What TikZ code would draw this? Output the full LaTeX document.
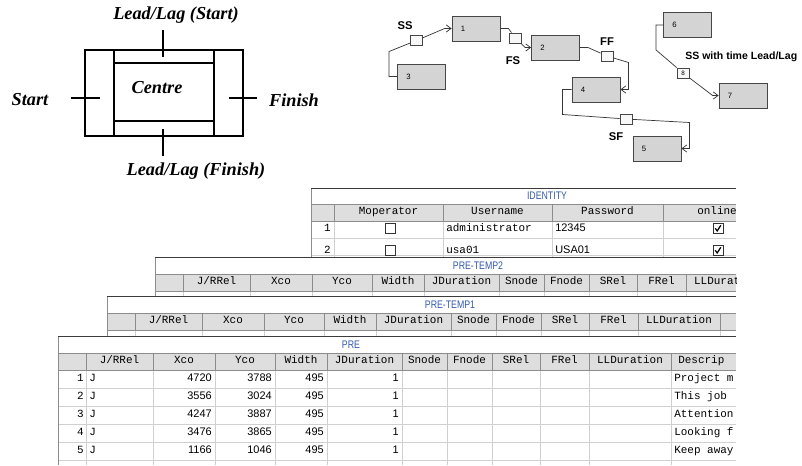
\documentclass[tikz,border=0pt]{standalone}
\usepackage{fontspec}
\setmainfont{Liberation Serif}
\setsansfont{Liberation Sans}
\setmonofont{Liberation Mono}
\usetikzlibrary{arrows.meta,positioning,calc}
\definecolor{actgray}{RGB}{212,212,212}
\definecolor{actline}{RGB}{70,70,70}
\definecolor{linkgray}{RGB}{55,55,55}
\definecolor{hdrgray}{RGB}{222,222,222}
\definecolor{hdrline}{RGB}{140,140,140}
\definecolor{gridgray}{RGB}{208,208,208}
\definecolor{framegray}{RGB}{60,60,60}
\definecolor{titleblue}{RGB}{50,90,170}

\begin{document}
\begin{tikzpicture}[x=0.25mm, y=-0.25mm,
  diag/.style={line width=0.8pt, black},
  diaglbl/.style={font=\rmfamily\bfseries\itshape\fontsize{13}{15}\selectfont, inner sep=0pt},
  act/.style={draw=actline, fill=actgray, line width=0.6pt, minimum height=6.25mm, text width=7.6mm, inner xsep=2.2mm, inner ysep=0pt, align=left, font=\sffamily\fontsize{5.5}{6}\selectfont},
  rel/.style={draw=actline, fill=black!3, line width=0.6pt, minimum width=3mm, minimum height=2.5mm, inner sep=0pt, font=\sffamily\fontsize{4.5}{5}\selectfont},
  link/.style={linkgray, line width=0.5pt},
  arr/.style={-{Straight Barb[length=1.2mm, width=1.8mm]}},
  rellbl/.style={font=\sffamily\bfseries\fontsize{8}{9}\selectfont, inner sep=0pt},
  grid/.style={gridgray, line width=0.5pt},
  hdrsep/.style={hdrline, line width=0.5pt},
  frame/.style={framegray, line width=1.1pt},
  wintitle/.style={text=titleblue, font=\sffamily\fontsize{7.8}{9}\selectfont, inner sep=0pt},
  hdr/.style={font=\ttfamily\fontsize{7.8}{9}\selectfont, inner sep=0pt, text height=1.55mm, text depth=0.45mm},
  cell/.style={font=\ttfamily\fontsize{7.8}{9}\selectfont, inner sep=0pt, text height=1.55mm, text depth=0.45mm},
  num/.style={font=\sffamily\fontsize{7.8}{9}\selectfont, inner sep=0pt, text height=1.55mm, text depth=0.45mm, anchor=east},
  chk/.style={draw=black!80, fill=white, line width=0.5pt, minimum size=2.5mm, inner sep=0pt},
  tick/.style={black, line width=0.9pt}
]
\useasboundingbox (0,0) rectangle (802,465);
\clip (0,0) rectangle (802,465);
\fill[white] (0,0) rectangle (802,465);

%--- Link box diagram ---
\draw[diag] (85,50) rectangle (243,136);
\draw[diag] (114,50) -- (114,136) (214,50) -- (214,136);
\draw[diag] (114,63) -- (214,63) (114,121) -- (214,121);
\draw[diag] (163,30) -- (163,57);
\draw[diag] (163,129) -- (163,156);
\draw[diag] (71,98) -- (100,98);
\draw[diag] (229,98) -- (257,98);
\node[diaglbl] (lagstart) at (176,15) {Lead/Lag (Start)};
\node[diaglbl] (lagfinish) at (196,171) {Lead/Lag (Finish)};
\node[diaglbl] (startlbl) at (30,100) {Start};
\node[diaglbl] (finishlbl) at (294,100) {Finish};
\node[diaglbl] (centrelbl) at (157,88) {Centre};

%--- Activity network ---
\node[act] (a1) at (476,28.5) {1};
\node[act] (a2) at (555.5,47.5) {2};
\node[act] (a3) at (421.5,76.5) {3};
\node[act] (a4) at (596,89.5) {4};
\node[act] (a5) at (657,148.5) {5};
\node[act] (a6) at (687.5,25) {6};
\node[act] (a7) at (743,95.5) {7};

\node[rel] (rss) at (416.5,40.5) {};
\node[rel] (rfs) at (515.5,38) {};
\node[rel] (rff) at (607,56) {};
\node[rel] (rsf) at (626,119) {};
\node[rel] (rll) at (683,73) {8};

% relations
\draw[link, arr] (a3.west) -- ++(-8,0) -- ++(0,-25) -- (rss) -- ($(a1.west)+(-7,0)$) -- (a1.west);
\draw[link, arr] (a1.east) -- ++(8,0) -- (rfs) -- ($(a2.west)+(-6,0)$) -- (a2.west);
\draw[link, arr] (a2.east) -- ++(8,0) -- (rff) -- ($(a4.east)+(8,-27)$) -- ($(a4.east)+(8,0)$) -- (a4.east);
\draw[link, arr] (a4.west) -- ++(-9,0) -- ++(0,25) -- (rsf) -- ($(a5.east)+(8,-26)$) -- ($(a5.east)+(8,0)$) -- (a5.east);
\draw[link, arr] (a6.west) -- ++(-7,0) -- ++(0,25) -- (rll) -- ($(a7.west)+(-6,0)$) -- (a7.west);

\node[rellbl] (ss) at (405,26) {SS};
\node[rellbl] (fs) at (513,61) {FS};
\node[rellbl] (ff) at (607,42) {FF};
\node[rellbl] (sf) at (616,137) {SF};
\node[rellbl, anchor=west, font=\sffamily\bfseries\fontsize{7.5}{9}\selectfont] (sslag) at (685,57) {SS with time Lead/Lag};

%--- IDENTITY window ---
\begin{scope}
  \clip (311,188) rectangle (736,257);
  \fill[white] (311,188) rectangle (736,257);
  \fill[hdrgray] (311,204) rectangle (736,221);
  \foreach \ry in {238,255} \draw[grid] (311,\ry) -- (736,\ry);
  \foreach \cx in {334,443,552,663} {
    \draw[hdrsep] (\cx,204) -- (\cx,221);
    \draw[grid] (\cx,221) -- (\cx,257);
  }
  \draw[hdrsep] (311,204) -- (736,204) (311,221) -- (736,221) (311.5,188) -- (311.5,257);
  \draw[frame] (311,188.5) -- (736,188.5);
  \node[wintitle] (id-title) at (547,196) {\scalebox{0.8}[1]{IDENTITY}};
  \node[hdr] (id-h1) at (388.5,212.5) {Moperator};
  \node[hdr] (id-h2) at (497.5,212.5) {Username};
  \node[hdr] (id-h3) at (607.5,212.5) {Password};
  \node[hdr] (id-h4) at (717,212.5) {online};
  \foreach \r/\ry/\uname/\pword in {1/229.5/administrator/12345, 2/251.5/usa01/USA01} {
    \node[cell, anchor=east] (id-n\r) at (331,\ry) {\r};
    \node[chk] (id-c\r) at (390,\ry-1) {};
    \node[cell, anchor=west] (id-u\r) at (446,\ry) {\uname};
    \node[num, anchor=west] (id-p\r) at (555,\ry) {\pword};
    \node[chk] (id-k\r) at (718,\ry-1) {};
    \draw[tick] ($(id-k\r)+(-2.8,-0.2)$) -- ++(2,2.6) -- ++(3.6,-5.6);
  }
\end{scope}

%--- PRE windows ---
\foreach \dx/\wtop/\wbot/\wname/\tx in {97/257/296/PRE-TEMP2/478, 49/296/336/PRE-TEMP1/450, 0/336/465/PRE/351} {
  \begin{scope}
    \clip (58+\dx,\wtop) rectangle (736,\wbot);
    \fill[white] (58+\dx,\wtop) rectangle (736,\wbot);
    \fill[hdrgray] (58+\dx,\wtop+17) rectangle (736,\wtop+34);
    \foreach \ry in {52,70,88,106,124} \draw[grid] (58+\dx,\wtop+\ry) -- (736,\wtop+\ry);
    \foreach \cx in {86,153,215,275,327,402,447,492,540,589,671} {
      \draw[hdrsep] (\cx+\dx,\wtop+17) -- (\cx+\dx,\wtop+34);
      \draw[grid] (\cx+\dx,\wtop+34) -- (\cx+\dx,\wbot);
    }
    \draw[hdrsep] (58+\dx,\wtop+17) -- (736,\wtop+17) (58+\dx,\wtop+34) -- (736,\wtop+34) (58.5+\dx,\wtop) -- (58.5+\dx,\wbot);
    \draw[frame] (58+\dx,\wtop+0.5) -- (736,\wtop+0.5);
    \node[wintitle] (\wname-title) at (\tx,\wtop+8.5) {\scalebox{0.8}[1]{\wname}};
    \foreach \hx/\htext [count=\i] in {119.5/{J/RRel}, 184/Xco, 245/Yco, 301/Width, 364.5/JDuration, 424.5/Snode, 469.5/Fnode, 516/SRel, 564.5/FRel, 630/LLDuration}
      \node[hdr] (\wname-h\i) at (\hx+\dx,\wtop+25.5) {\htext};
  \end{scope}
}

%--- PRE rows ---
\begin{scope}
  \clip (58,336) rectangle (736,465);
  \node[hdr, anchor=west] (pre-h11) at (678,361.5) {Descrip};
  \foreach \r/\xc/\yc/\dtext in {1/4720/3788/{Project m}, 2/3556/3024/{This job}, 3/4247/3887/{Attention}, 4/3476/3865/{Looking f}, 5/1166/1046/{Keep away}} {
    \node[cell, anchor=east] (pre-n\r) at (84,361+18*\r) {\r};
    \node[cell, anchor=west] (pre-j\r) at (89,361+18*\r) {J};
    \node[num] (pre-x\r) at (212,361+18*\r) {\xc};
    \node[num] (pre-y\r) at (272,361+18*\r) {\yc};
    \node[num] (pre-w\r) at (324,361+18*\r) {495};
    \node[num] (pre-d\r) at (399,361+18*\r) {1};
    \node[cell, anchor=west] (pre-s\r) at (674,361+18*\r) {\dtext};
  }
\end{scope}
\end{tikzpicture}
\end{document}
